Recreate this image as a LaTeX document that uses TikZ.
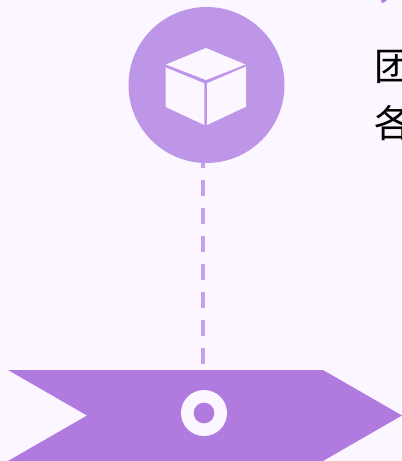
\documentclass[tikz,border=0pt]{standalone}
\usepackage{fontspec}
\newfontfamily\cjk{Noto Sans CJK SC}
\definecolor{bgc}{HTML}{FBF6FF}
\definecolor{circ}{HTML}{BE96E8}
\definecolor{dashc}{HTML}{C79FEE}
\definecolor{band}{HTML}{B07ADF}
\tikzset{
  px/.style={x=0.75pt,y=-0.75pt},
  cjktext/.style={anchor=base west,inner sep=0pt,outer sep=0pt,font=\cjk\fontsize{28.5}{28.5}\selectfont,text=black},
  cubeface/.style={fill=bgc,draw=none},
  link/.style={draw=dashc,line width=3.2pt,dash pattern=on 12pt off 9pt}
}
\begin{document}
\begin{tikzpicture}[px]
\useasboundingbox (0,0) rectangle (402,461);
\clip (0,0) rectangle (402,461);
\fill[bgc] (0,0) rectangle (402,461);
% ribbon
\fill[band] (8,370) -- (323,370) -- (402,415.5) -- (323,461) -- (8,461) -- (87,415.5) -- cycle;
% connector, its first dash hidden under the badge
\coordinate (linkstart) at (203,152);
\coordinate (linkend) at (203,365);
\draw[link] (linkstart) -- (linkend);
\node[circle,fill=circ,minimum size=117pt,inner sep=0pt] (badge) at (206.5,85) {};
\node[circle,fill=bgc,minimum size=34.5pt,inner sep=0pt] (ring) at (204,413) {};
\node[circle,fill=band,minimum size=15.5pt,inner sep=0pt] (hole) at (204,413) {};
% cube
\fill[cubeface] (206,48) -- (245.5,64.5) -- (206,80) -- (166,64.5) -- cycle;
\fill[cubeface] (165.7,67.5) -- (204.3,83.3) -- (204.3,125) -- (165.7,107) -- cycle;
\fill[cubeface] (207,83.3) -- (246,66.5) -- (246,106.7) -- (207,125) -- cycle;
% text
\node[cjktext] (t1) at (374.5,80.5) {团};
\node[cjktext] (t2) at (374.5,137.5) {各};
\fill[band] (381,0) -- (387,0) -- (384,2.5) -- (381.5,2.5) -- cycle;
\end{tikzpicture}
\end{document}
